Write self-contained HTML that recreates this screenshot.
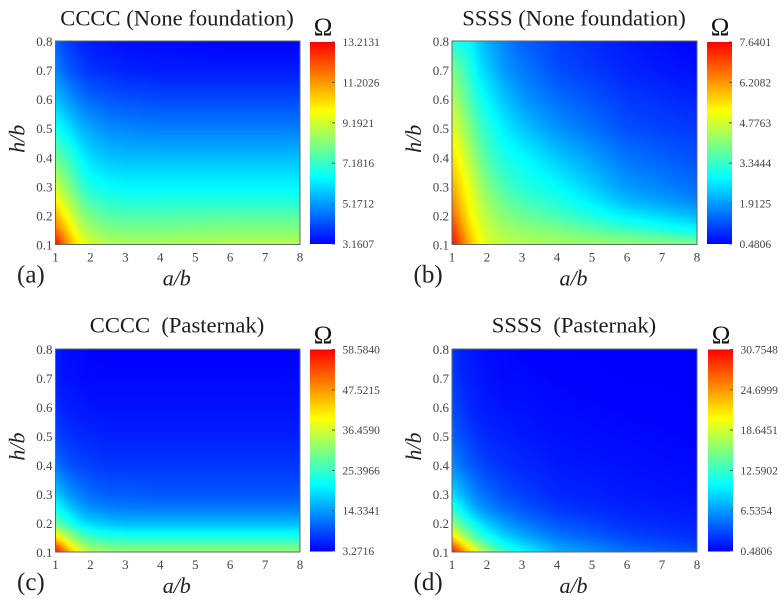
<!DOCTYPE html>
<html lang="en">
<head>
<meta charset="utf-8">
<title>Frequency parameter heatmaps</title>
<style>
html,body{margin:0;padding:0;background:#fff;}
svg{display:block;}
text{font-family:"Liberation Serif",serif;fill:#222;}
.tick{font-size:13px;fill:#444;}
.cb{font-size:11.5px;fill:#444;}
.title{font-size:22.6px;text-anchor:middle;white-space:pre;fill:#1c1c1c;}
.axis{font-size:22px;font-style:italic;text-anchor:middle;fill:#222;}
.omega{font-size:25px;text-anchor:middle;fill:#111;}
.tag{font-size:25px;fill:#222;}
</style>
</head>
<body>
<svg id="figure" width="784" height="602" viewBox="0 0 784 602" xmlns="http://www.w3.org/2000/svg">
<defs><filter id="soften" x="-5%" y="-5%" width="110%" height="110%" color-interpolation-filters="sRGB"><feGaussianBlur stdDeviation="1.3"/></filter></defs>
</svg>
<script>
const aSamples = [1, 1.25, 1.5, 1.75, 2, 2.5, 3, 4, 6, 8];
const hSamples = [0.1, 0.125, 0.15, 0.2, 0.25, 0.3, 0.4, 0.5, 0.6, 0.7, 0.8];
const xTicks = [1, 2, 3, 4, 5, 6, 7, 8];
const yTicks = ['0.1', '0.2', '0.3', '0.4', '0.5', '0.6', '0.7', '0.8'];

const cbarTicksA = ['3.1607', '5.1712', '7.1816', '9.1921', '11.2026', '13.2131'];
const cbarTicksB = ['0.4806', '1.9125', '3.3444', '4.7763', '6.2082', '7.6401'];
const cbarTicksC = ['3.2716', '14.3341', '25.3966', '36.4590', '47.5215', '58.5840'];
const cbarTicksD = ['0.4806', '6.5354', '12.5902', '18.6451', '24.6999', '30.7548'];

// Rows run from h/b = 0.1 up to 0.8; columns follow aSamples.
const valuesA = [
  [13.2, 11.8, 10.5, 9.8, 9.3, 8.9, 8.8, 8.8, 8.9, 8.9],
  [12.5, 11.3, 10.2, 9.4, 8.9, 8.5, 8.4, 8.4, 8.5, 8.5],
  [11.8, 10.8, 9.8, 9.0, 8.6, 8.2, 8.1, 8.1, 8.2, 8.2],
  [10.8, 9.9, 9.1, 8.4, 8.0, 7.6, 7.5, 7.5, 7.6, 7.6],
  [10.0, 9.2, 8.5, 7.8, 7.4, 7.0, 6.9, 6.9, 6.9, 6.9],
  [9.2, 8.5, 7.9, 7.2, 6.8, 6.5, 6.4, 6.4, 6.4, 6.4],
  [7.9, 7.4, 6.9, 6.4, 6.0, 5.7, 5.6, 5.6, 5.6, 5.6],
  [6.7, 6.3, 5.9, 5.5, 5.3, 5.0, 4.9, 4.8, 4.8, 4.8],
  [5.7, 5.3, 5.0, 4.7, 4.5, 4.3, 4.2, 4.1, 4.1, 4.1],
  [4.9, 4.5, 4.2, 4.0, 3.8, 3.7, 3.6, 3.5, 3.5, 3.5],
  [4.4, 4.0, 3.8, 3.6, 3.5, 3.4, 3.3, 3.3, 3.16, 3.16]
];
const valuesB = [
  [7.64, 6.8, 5.9, 5.35, 4.9, 4.6, 4.5, 4.35, 4.2, 4.06],
  [7.4, 6.6, 5.8, 5.2, 4.8, 4.5, 4.35, 4.2, 3.9, 3.5],
  [7.2, 6.35, 5.6, 5.06, 4.7, 4.35, 4.2, 4.0, 3.4, 2.84],
  [6.7, 6.0, 5.35, 4.85, 4.5, 4.06, 3.85, 3.5, 2.7, 2.2],
  [6.35, 5.7, 5.15, 4.7, 4.3, 3.8, 3.5, 3.13, 2.2, 1.7],
  [6.0, 5.5, 5.0, 4.5, 4.06, 3.5, 3.2, 2.84, 1.9, 1.48],
  [5.5, 5.06, 4.5, 4.0, 3.56, 3.06, 2.84, 2.34, 1.55, 1.2],
  [5.0, 4.56, 4.06, 3.56, 3.2, 2.7, 2.34, 1.84, 1.2, 0.98],
  [4.56, 4.06, 3.56, 3.13, 2.8, 2.3, 1.9, 1.5, 1.0, 0.8],
  [4.0, 3.63, 3.2, 2.7, 2.4, 1.9, 1.63, 1.2, 0.8, 0.6],
  [3.06, 3.0, 2.8, 2.4, 2.13, 1.7, 1.4, 1.05, 0.7, 0.48]
];
const valuesC = [
  [58.6, 50.3, 43.1, 38.1, 34.8, 33.1, 32.6, 32.6, 32.6, 32.6],
  [50.8, 44.2, 37.6, 33.1, 30.4, 28.7, 28.2, 28.2, 28.2, 28.2],
  [42.0, 36.4, 32.0, 28.2, 26.0, 24.3, 23.7, 23.7, 23.7, 23.7],
  [28.5, 25.5, 22.4, 19.8, 18.2, 16.9, 16.4, 16.4, 16.4, 16.4],
  [22.8, 19.8, 17.0, 15.0, 13.8, 12.7, 12.2, 12.2, 12.2, 12.2],
  [18.2, 15.4, 13.2, 12.1, 11.0, 9.9, 9.9, 9.4, 9.4, 9.4],
  [11.6, 9.9, 8.8, 8.2, 7.7, 7.1, 7.1, 7.1, 7.1, 7.1],
  [8.2, 7.1, 6.6, 6.0, 6.0, 5.5, 5.5, 5.5, 5.5, 5.5],
  [6.6, 5.5, 5.0, 5.0, 4.4, 4.4, 4.4, 4.4, 4.4, 4.4],
  [5.5, 4.4, 4.4, 3.8, 3.8, 3.8, 3.8, 3.8, 3.8, 3.8],
  [5.0, 4.1, 3.8, 3.8, 3.5, 3.3, 3.3, 3.3, 3.3, 3.3]
];
const valuesD = [
  [30.75, 26.2, 22.6, 19.9, 16.5, 12.9, 10.5, 7.4, 4.7, 3.5],
  [26.5, 22.9, 19.2, 16.2, 13.8, 10.8, 9.0, 6.5, 4.1, 2.9],
  [22.3, 18.6, 15.6, 13.2, 11.4, 9.0, 7.4, 5.3, 3.2, 2.3],
  [16.2, 13.5, 11.4, 9.6, 8.3, 6.5, 5.3, 3.8, 2.3, 1.7],
  [12.0, 10.2, 8.3, 6.8, 5.9, 4.7, 3.8, 2.6, 1.7, 1.4],
  [9.3, 7.7, 6.5, 5.3, 4.7, 3.5, 2.9, 2.0, 1.4, 1.1],
  [5.9, 5.0, 4.1, 3.5, 2.9, 2.3, 2.0, 1.4, 1.1, 0.8],
  [4.4, 3.5, 2.9, 2.3, 2.0, 1.7, 1.4, 1.1, 0.8, 0.6],
  [3.5, 2.6, 2.0, 1.7, 1.4, 1.1, 1.1, 0.8, 0.6, 0.48],
  [2.9, 2.0, 1.7, 1.4, 1.1, 0.8, 0.8, 0.6, 0.48, 0.48],
  [2.6, 1.7, 1.4, 1.1, 0.9, 0.8, 0.6, 0.48, 0.48, 0.48]
];

const NS = 'http://www.w3.org/2000/svg';
const fig = document.getElementById('figure');
const defs = fig.querySelector('defs');

function node(tag, attrs, parent) {
  const el = document.createElementNS(NS, tag);
  for (const k in attrs) el.setAttribute(k, attrs[k]);
  parent.appendChild(el);
  return el;
}
function rainbow(t) {
  t = Math.max(0, Math.min(1, t));
  let r, g, b;
  if (t < 0.33) { const u = t / 0.33; r = 0; g = 255 * u; b = 255; }
  else if (t < 0.66) { const u = (t - 0.33) / 0.33; r = 255 * u; g = 255; b = 255 * (1 - u); }
  else { const u = (t - 0.66) / 0.34; r = 255; g = 255 * (1 - u); b = 0; }
  return 'rgb(' + Math.round(r) + ',' + Math.round(g) + ',' + Math.round(b) + ')';
}
function bracket(arr, v) {
  let i = 0;
  while (i < arr.length - 2 && v > arr[i + 1]) i++;
  return [i, Math.max(0, Math.min(1, (v - arr[i]) / (arr[i + 1] - arr[i])))];
}
function sample(values, a, h) {
  const [i, u] = bracket(aSamples, a);
  const [j, w] = bracket(hSamples, h);
  return (values[j][i] * (1 - u) + values[j][i + 1] * u) * (1 - w) +
         (values[j + 1][i] * (1 - u) + values[j + 1][i + 1] * u) * w;
}

function drawPanel(p) {
  const g = node('g', {}, fig);
  
  

  const xScale = a => p.x0 + (a - 1) / 7 * (p.x1 - p.x0);
  const yScale = h => p.y1 - (h - 0.1) / 0.7 * (p.y1 - p.y0);
  const xInvert = x => 1 + (x - p.x0) / (p.x1 - p.x0) * 7;
  const yInvert = y => 0.1 + (p.y1 - y) / (p.y1 - p.y0) * 0.7;
  const cMin = parseFloat(p.cbar[0]);
  const cMax = parseFloat(p.cbar[p.cbar.length - 1]);
  const colorOf = v => rainbow((v - cMin) / (cMax - cMin));

  const clip = node('clipPath', { id: 'clip-' + p.id }, defs);
  node('rect', { x: p.x0, y: p.y0, width: p.x1 - p.x0, height: p.y1 - p.y0 }, clip);
  const clipped = node('g', { 'clip-path': 'url(#clip-' + p.id + ')' }, g);
  
  
  const cells = node('g', { 'shape-rendering': 'crispEdges', filter: 'url(#soften)' }, clipped);
  
  
  const step = 3;
  const pad = 6;
  for (let y = p.y0 - pad; y < p.y1 + pad; y += step) {
    for (let x = p.x0 - pad; x < p.x1 + pad; x += step) {
      const a = Math.max(1, Math.min(8, xInvert(x + step / 2)));
      const h = Math.max(0.1, Math.min(0.8, yInvert(y + step / 2)));
      const v = sample(p.values, a, h);
      const c = node('rect', { x: x, y: y, width: step, height: step, fill: colorOf(v) }, cells);
      
      
    }
  }

  const frame = node('rect', { x: p.x0, y: p.y0, width: p.x1 - p.x0, height: p.y1 - p.y0, fill: 'none', stroke: '#5a6a70', 'stroke-width': 1 }, g);
  
  

  xTicks.forEach(t => {
    const el = node('text', { class: 'tick', x: xScale(t), y: p.y1 + 17, 'text-anchor': 'middle' }, g);
    
    
    el.textContent = t;
  });
  yTicks.forEach(t => {
    const el = node('text', { class: 'tick', x: p.x0 - 3, y: yScale(parseFloat(t)) + 5, 'text-anchor': 'end' }, g);
    
    
    el.textContent = t;
  });

  const bar = node('g', { 'shape-rendering': 'crispEdges' }, g);
  
  
  const barH = p.cb1 - p.cb0;
  for (let y = 0; y < barH; y++) {
    const seg = node('rect', { x: p.cbx, y: p.cb0 + y, width: 25, height: 1.2, fill: rainbow(1 - (y + 0.5) / barH) }, bar);
    
    
  }
  const cbY = v => p.cb1 - (v - cMin) / (cMax - cMin) * barH;
  p.cbar.forEach(t => {
    const yy = cbY(parseFloat(t));
    const mark = node('line', { x1: p.cbx + 22, x2: p.cbx + 25, y1: yy, y2: yy, stroke: '#555', 'stroke-width': 1 }, g);
    
    
    const el = node('text', { class: 'cb', x: p.cbx + 32.5, y: yy + 4 }, g);
    
    
    el.textContent = t;
  });

  const title = node('text', { class: 'title', x: p.titleX, y: p.titleY }, g);
  
  
  title.textContent = p.title;

  const omega = node('text', { class: 'omega', x: p.cbx + 13, y: p.y0 - 6 }, g);
  
  
  omega.textContent = 'Ω';

  const xLabel = node('text', { class: 'axis', x: (p.x0 + p.x1) / 2 - 1, y: p.y1 + 41 }, g);
  
  
  xLabel.textContent = 'a/b';

  const yx = p.x0 - 31;
  const yy = (p.y0 + p.y1) / 2 - 4;
  const yLabel = node('text', { class: 'axis', x: yx, y: yy, transform: 'rotate(-90 ' + yx + ' ' + yy + ')' }, g);
  
  
  yLabel.textContent = 'h/b';

  const tag = node('text', { class: 'tag', x: p.x0 - 38.5, y: p.y1 + 38 }, g);
  
  
  tag.textContent = '(' + p.id + ')';
}

drawPanel({ id: 'a', title: 'CCCC (None foundation)', titleX: 177, titleY: 25.5, x0: 55.5, x1: 300, y0: 41, y1: 244.5, cbx: 310, cb0: 42, cb1: 244, values: valuesA, cbar: cbarTicksA });
drawPanel({ id: 'b', title: 'SSSS (None foundation)', titleX: 574, titleY: 25.5, x0: 452, x1: 697, y0: 41, y1: 244.5, cbx: 707, cb0: 42, cb1: 244, values: valuesB, cbar: cbarTicksB });
drawPanel({ id: 'c', title: 'CCCC  (Pasternak)', titleX: 177, titleY: 332.5, x0: 55.5, x1: 300, y0: 349, y1: 552, cbx: 310, cb0: 349.5, cb1: 551, values: valuesC, cbar: cbarTicksC });
drawPanel({ id: 'd', title: 'SSSS  (Pasternak)', titleX: 574, titleY: 332.5, x0: 452, x1: 697, y0: 349, y1: 552, cbx: 708, cb0: 349.5, cb1: 551, values: valuesD, cbar: cbarTicksD });
</script>
</body>
</html>
